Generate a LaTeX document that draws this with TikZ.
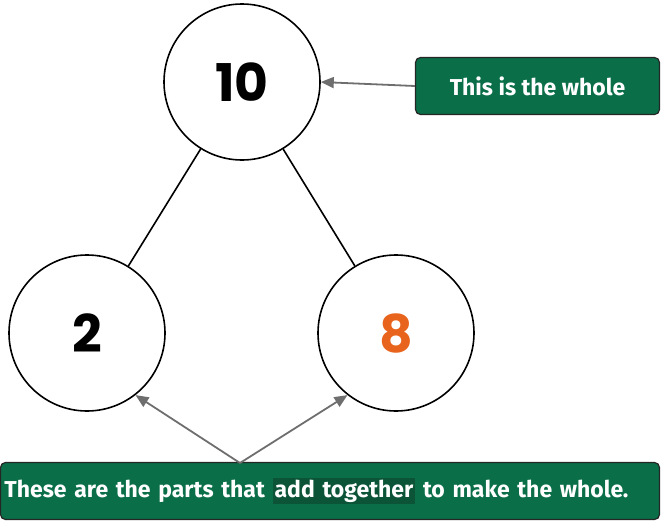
\documentclass[tikz,border=0pt]{standalone}
\usepackage{fontspec}
\setmainfont{Fira Sans}
\newfontfamily\numfont{Poppins}
\usetikzlibrary{arrows.meta,calc}
\definecolor{boxgreen}{RGB}{10,110,72}
\definecolor{hlgreen}{RGB}{12,84,56}
\definecolor{numorange}{RGB}{232,100,28}
\definecolor{arrowgray}{RGB}{110,110,110}
\tikzset{
  numcircle/.style={circle,draw=black,line width=1.6pt,minimum size=156pt,inner sep=0pt,font=\numfont\bfseries\fontsize{52}{52}\selectfont},
  greenbox/.style={draw=black!85,line width=1.2pt,fill=boxgreen,rounded corners=5pt,text=white,font=\fontsize{23}{26}\selectfont\bfseries,inner ysep=0pt},
  pointer/.style={draw=arrowgray,line width=1.8pt,-{Triangle[length=13pt,width=11pt]}},
  link/.style={draw=black,line width=1.6pt}
}
\begin{document}
\begin{tikzpicture}[x=1pt,y=-1pt]
\useasboundingbox (0,0) rectangle (661,522);
\node[numcircle] (whole) at (242,82) {10};
\node[numcircle] (left) at (87,333) {2};
\node[numcircle,text=numorange] (right) at (396,333) {8};
\draw[link] (whole) -- (left);
\draw[link] (whole) -- (right);
\node[greenbox,minimum width=244pt,minimum height=57pt,inner xsep=0pt] (wholebox) at (537.5,86) {This is the whole};
\node[greenbox,text width=651pt,align=left,inner xsep=4pt,minimum height=57pt] (partsbox) at (330,491) {These are the parts that \setlength{\fboxsep}{2pt}\colorbox{hlgreen}{add together} to make the whole.};
\coordinate (fork) at (240,463);
\draw[pointer] (wholebox.west) -- (whole.east);
\draw[pointer] (fork) -- (left.-52);
\draw[pointer] (fork) -- (right.-128);
\end{tikzpicture}
\end{document}
